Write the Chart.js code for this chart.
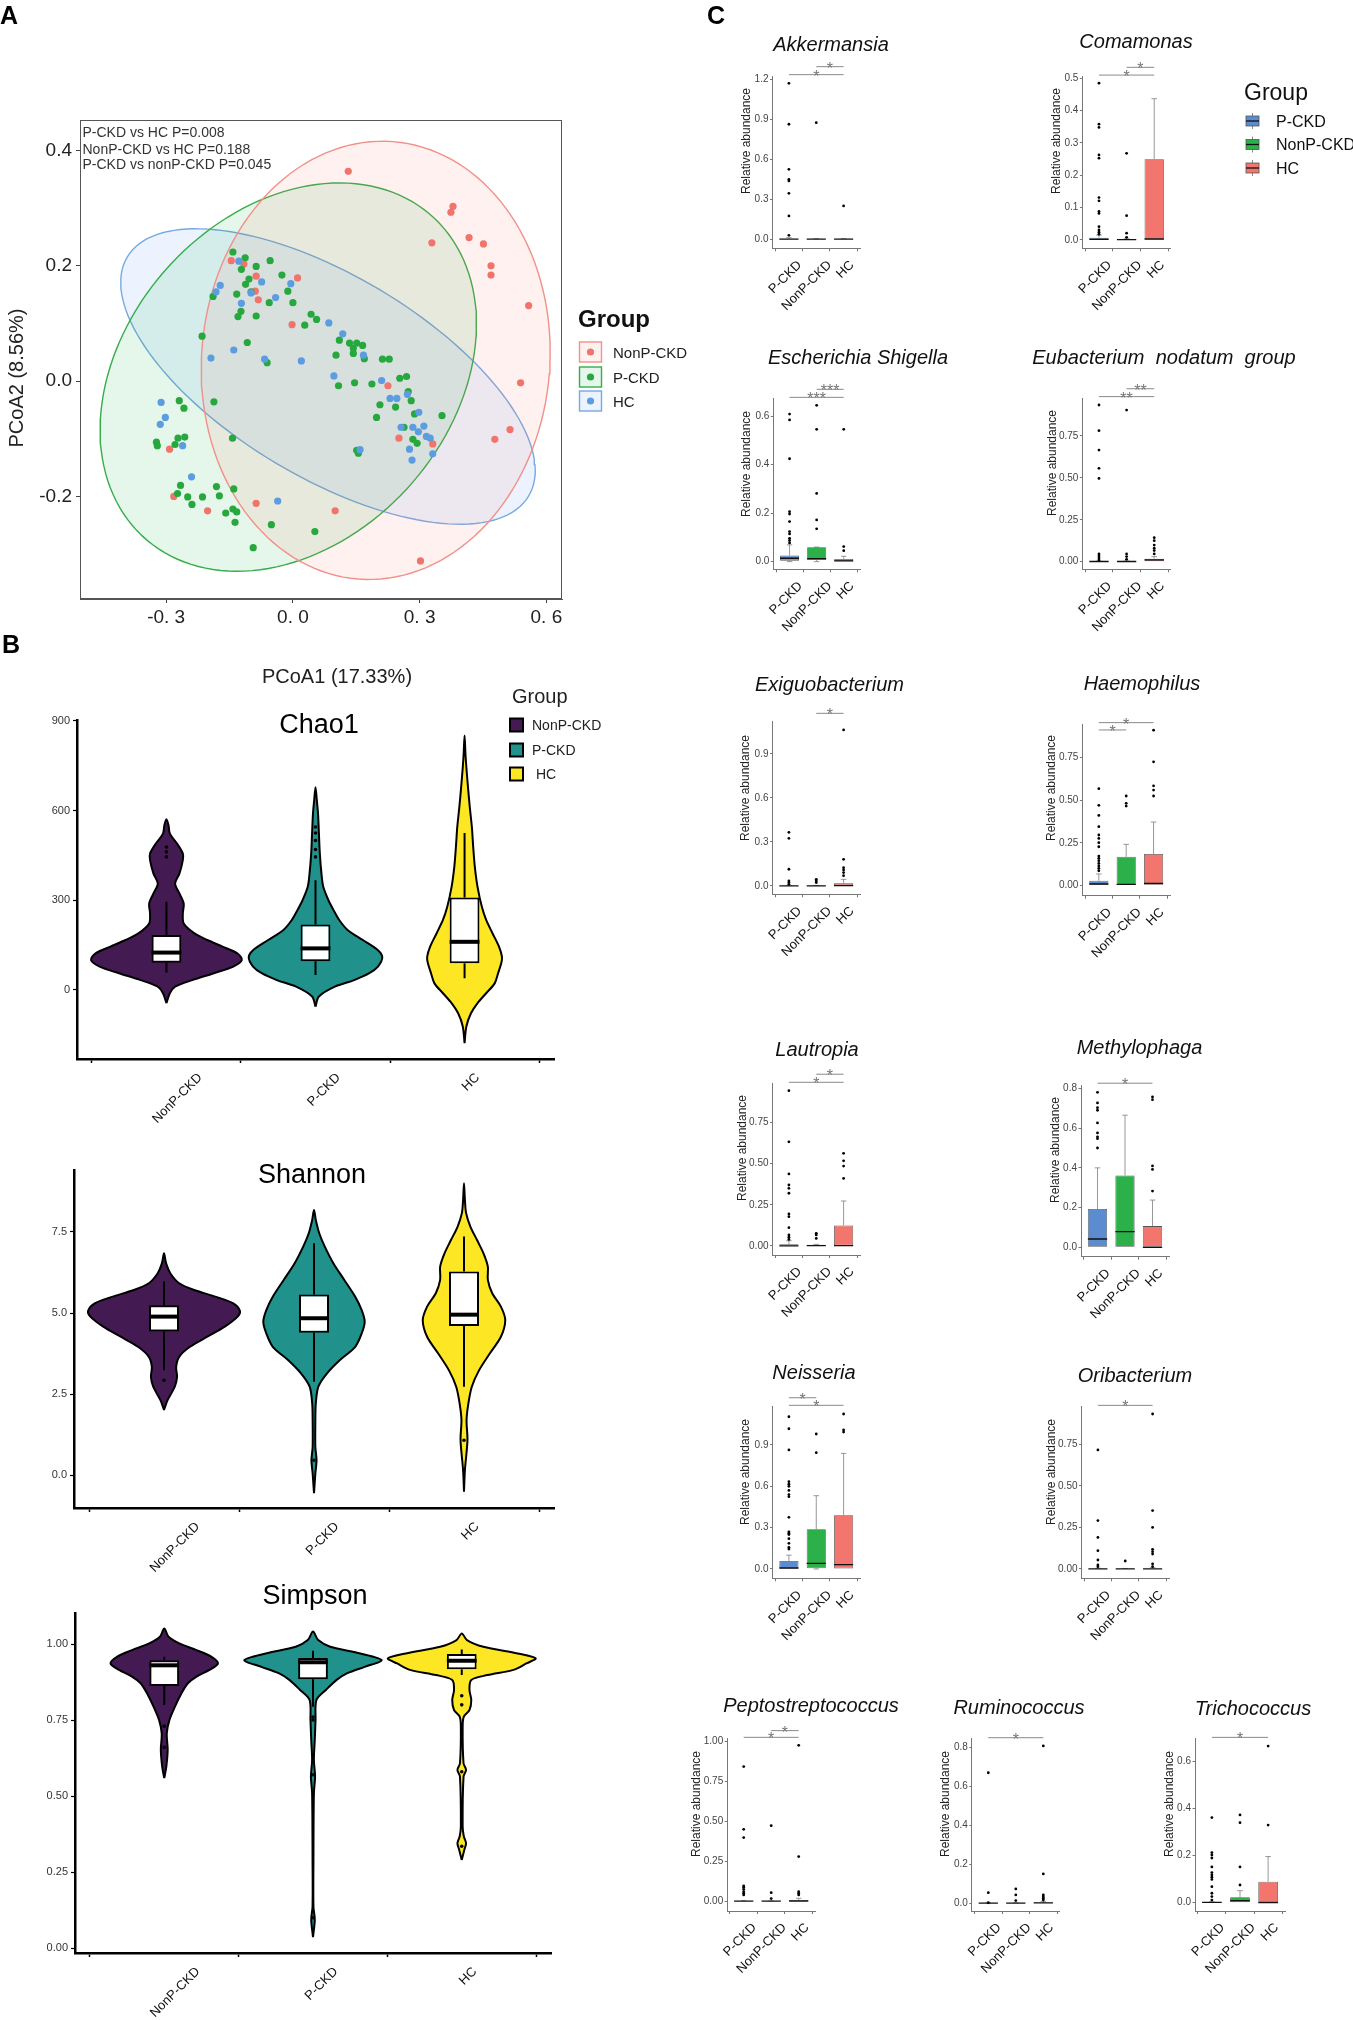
<!DOCTYPE html>
<html><head><meta charset="utf-8"><title>Figure</title>
<script src="https://cdn.jsdelivr.net/npm/chart.js@4.4.1/dist/chart.umd.min.js"></script>
<style>
html,body{margin:0;padding:0;background:#ffffff;}
body{position:relative;width:1353px;height:2020px;overflow:hidden;}
canvas{position:absolute;}
</style></head><body>
<script>
/* ================= DATA ================= */
// ---- Panel A : PCoA ----
const pcoaGroups = ['NonP-CKD','P-CKD','HC'];
const pcoaNonP = [[0.131,0.364],[0.379,0.303],[0.374,0.293],[0.329,0.240],[0.417,0.249],[0.451,0.238],[0.469,0.200],[0.469,0.184],[0.558,0.131],[0.539,-0.003],[0.514,-0.084],[0.478,-0.101],[0.302,-0.312],[0.100,-0.225],[-0.087,-0.212],[-0.202,-0.225],[-0.282,-0.200],[-0.292,-0.118],[0.251,-0.099],[0.331,-0.109],[0.225,-0.008],[-0.002,0.098],[0.011,0.179],[-0.087,0.182],[-0.082,0.141],[-0.089,0.156],[-0.146,0.209],[-0.116,0.203]];
const pcoaPCKD = [[-0.142,0.224],[-0.113,0.214],[-0.087,0.199],[-0.054,0.209],[-0.122,0.194],[-0.026,0.184],[-0.104,0.177],[-0.112,0.168],[-0.133,0.151],[-0.099,0.155],[-0.012,0.156],[-0.056,0.136],[0.000,0.136],[-0.189,0.147],[-0.123,0.121],[-0.130,0.112],[-0.087,0.113],[0.043,0.116],[0.056,0.107],[0.028,0.097],[-0.215,0.078],[-0.108,0.067],[0.110,0.071],[0.134,0.066],[0.151,0.066],[0.165,0.062],[0.143,0.057],[0.102,0.045],[0.169,0.039],[0.143,0.048],[0.212,0.038],[0.228,0.038],[-0.061,0.032],[0.253,0.005],[0.269,0.008],[0.108,-0.008],[0.146,-0.003],[0.187,-0.005],[0.273,-0.018],[0.206,-0.041],[0.243,-0.045],[0.280,-0.034],[0.198,-0.063],[0.263,-0.080],[0.353,-0.060],[0.288,-0.057],[0.284,-0.101],[0.294,-0.108],[-0.269,-0.034],[-0.258,-0.047],[-0.187,-0.036],[-0.143,-0.099],[-0.323,-0.106],[-0.321,-0.112],[-0.272,-0.099],[-0.256,-0.097],[-0.279,-0.110],[-0.266,-0.181],[-0.273,-0.195],[-0.249,-0.201],[-0.239,-0.214],[-0.214,-0.201],[-0.181,-0.183],[-0.174,-0.199],[-0.140,-0.187],[-0.159,-0.229],[-0.142,-0.222],[-0.133,-0.227],[-0.137,-0.245],[-0.051,-0.249],[-0.094,-0.289],[0.052,-0.261],[0.155,-0.125],[0.151,-0.120]];
const pcoaHC = [[-0.128,0.208],[-0.172,0.166],[-0.182,0.155],[-0.122,0.135],[-0.099,0.153],[-0.074,0.172],[-0.041,0.145],[-0.005,0.169],[0.085,0.101],[0.118,0.082],[0.167,0.045],[0.020,0.035],[-0.067,0.038],[-0.140,0.054],[-0.194,0.040],[0.097,0.009],[0.210,0.001],[0.230,-0.030],[0.246,-0.030],[0.271,-0.023],[0.298,-0.054],[0.310,-0.078],[0.284,-0.080],[0.256,-0.080],[0.297,-0.088],[0.316,-0.096],[0.325,-0.099],[0.331,-0.126],[0.276,-0.118],[0.282,-0.137],[0.159,-0.119],[-0.312,-0.037],[-0.302,-0.063],[-0.314,-0.075],[-0.261,-0.112],[-0.240,-0.166],[-0.036,-0.208]];
// ellipse: centre x, centre y, then the two conjugate semi-axis vectors (ax, ay), (bx, by)
const pcoaEllipses = [[0.196,0.036,0.413,0.010,0.005,0.380],[-0.011,0.007,0.443,0.057,0.047,0.332],[0.083,0.008,0.469,-0.214,0.144,0.141]];
const pcoaXTicks = [-0.3,0,0.3,0.6];
const pcoaYTicks = [-0.2,0,0.2,0.4];
const permanovaText = ['P-CKD vs HC P=0.008','NonP-CKD vs HC P=0.188','P-CKD vs nonP-CKD P=0.045'];

// ---- Panel B : alpha diversity violins (value, half-width in category units) ----
const alphaGroups = ['NonP-CKD','P-CKD','HC'];
const alphaMetrics = ['Chao1','Shannon','Simpson'];
const chaoViolin = [
 [[-44,0],[-11,0.023],[11,0.058],[33,0.173],[56,0.318],[78,0.448],[100,0.506],[122,0.477],[145,0.376],[167,0.275],[189,0.188],[222,0.116],[256,0.110],[289,0.116],[323,0.087],[356,0.058],[389,0.087],[434,0.110],[456,0.110],[489,0.072],[523,0.023],[551,0.014],[571,0]],
 [[-56,0],[-22,0.023],[11,0.130],[33,0.260],[56,0.361],[78,0.419],[109,0.448],[133,0.419],[167,0.318],[200,0.217],[234,0.159],[267,0.121],[300,0.087],[345,0.052],[389,0.040],[456,0.029],[523,0.023],[590,0.017],[634,0.009],[678,0]],
 [[-178,0],[-122,0.012],[-78,0.043],[-44,0.087],[-11,0.145],[22,0.202],[56,0.225],[89,0.246],[111,0.251],[145,0.231],[189,0.188],[234,0.145],[278,0.116],[345,0.087],[411,0.069],[478,0.058],[545,0.049],[612,0.035],[678,0.023],[745,0.012],[790,0.006],[851,0]]
];
const shannonViolin = [
 [[2.01,0],[2.31,0.023],[2.73,0.072],[3.03,0.087],[3.34,0.081],[3.65,0.101],[3.96,0.173],[4.27,0.289],[4.58,0.405],[4.89,0.491],[5.07,0.506],[5.30,0.462],[5.50,0.347],[5.71,0.202],[5.92,0.101],[6.22,0.043],[6.53,0.014],[6.84,0]],
 [[-0.55,0],[0.05,0.009],[0.46,0.017],[0.87,0.009],[1.70,0.009],[2.21,0.012],[2.73,0.029],[3.14,0.087],[3.55,0.173],[3.96,0.275],[4.37,0.318],[4.73,0.338],[5.09,0.318],[5.50,0.275],[6.02,0.202],[6.53,0.130],[7.05,0.072],[7.46,0.035],[7.87,0.012],[8.18,0]],
 [[-0.51,0],[0.15,0.006],[1.08,0.023],[1.70,0.017],[2.21,0.029],[2.73,0.052],[3.24,0.101],[3.76,0.173],[4.27,0.246],[4.78,0.275],[5.20,0.246],[5.61,0.188],[6.02,0.159],[6.43,0.159],[6.84,0.130],[7.25,0.087],[7.66,0.043],[8.08,0.014],[8.49,0.006],[9.0,0]]
];
const simpsonViolin = [
 [[0.559,0],[0.597,0.014],[0.652,0.023],[0.706,0.017],[0.750,0.035],[0.794,0.072],[0.838,0.116],[0.871,0.159],[0.893,0.217],[0.915,0.304],[0.936,0.361],[0.958,0.318],[0.980,0.217],[1.002,0.101],[1.024,0.029],[1.051,0]],
 [[0.036,0],[0.093,0.012],[0.137,0.003],[0.290,0.003],[0.509,0.006],[0.564,0.014],[0.619,0.006],[0.685,0.012],[0.750,0.017],[0.816,0.023],[0.849,0.087],[0.882,0.159],[0.904,0.231],[0.925,0.347],[0.947,0.462],[0.969,0.318],[0.991,0.116],[1.013,0.035],[1.041,0]],
 [[0.290,0],[0.323,0.017],[0.345,0.029],[0.367,0.014],[0.400,0.006],[0.564,0.012],[0.586,0.029],[0.608,0.012],[0.728,0.006],[0.761,0.014],[0.783,0.052],[0.816,0.064],[0.849,0.052],[0.882,0.064],[0.898,0.173],[0.915,0.347],[0.936,0.434],[0.953,0.497],[0.969,0.376],[0.991,0.145],[1.013,0.035],[1.035,0]]
];
// box stats: [lower whisker, q1, median, q3, upper whisker]
const chaoBox = [[58,91,125,184,295],[50,96,139,219,367],[39,89,161,309,525]];
const shannonBox = [[3.24,4.43,4.89,5.24,5.97],[2.88,4.39,4.84,5.57,7.15],[2.73,4.60,4.95,6.28,7.36]];
const simpsonBox = [[0.800,0.862,0.930,0.947,0.958],[0.794,0.884,0.940,0.954,0.978],[0.898,0.917,0.945,0.967,0.982]];
const chaoOut = [[445,462,478],[445,470,500,525,545],[]];
const shannonOut = [[2.93],[0.46],[1.08]];
const simpsonOut = [[0.73,0.66],[0.76,0.75,0.57,0.10],[0.83,0.80,0.58,0.335]];
const chaoTicks = [0,300,600,900];
const shannonTicks = [0,2.5,5,7.5];
const simpsonTicks = [0,0.25,0.5,0.75,1];

// ---- Panel C : genus relative abundance box plots ----
const genusGroups = ['P-CKD','NonP-CKD','HC'];
const genera = ['Akkermansia','Comamonas','Escherichia Shigella','Eubacterium  nodatum  group','Exiguobacterium','Haemophilus','Lautropia','Methylophaga','Neisseria','Oribacterium','Peptostreptococcus','Ruminococcus','Trichococcus'];
const genusYTicks = [[0,0.3,0.6,0.9,1.2],[0,0.1,0.2,0.3,0.4,0.5],[0,0.2,0.4,0.6],[0,0.25,0.5,0.75],[0,0.3,0.6,0.9],[0,0.25,0.5,0.75],[0,0.25,0.5,0.75],[0,0.2,0.4,0.6,0.8],[0,0.3,0.6,0.9],[0,0.25,0.5,0.75],[0,0.25,0.5,0.75,1],[0,0.2,0.4,0.6,0.8],[0,0.2,0.4,0.6]];
const genusTickDecimals = [1,1,1,2,1,2,2,1,1,2,2,1,1];
const genusYRange = [[-0.0675,1.225],[-0.0258,0.505],[-0.0316,0.673],[-0.0457,0.975],[-0.0568,1.12],[-0.0607,0.948],[-0.0546,0.987],[-0.047,0.817],[-0.0677,1.178],[-0.0561,0.976],[-0.0606,1.021],[-0.0394,0.848],[-0.0355,0.699]];
const genusBox = [
 [[0,0,0.002,0.006,0.012],[0,0,0.001,0.003,0.005],[0,0,0.001,0.003,0.005]],
 [[0,0,0.002,0.007,0.015],[0,0,0.001,0.002,0.004],[0,0,0.003,0.25,0.437]],
 [[0,0.004,0.014,0.025,0.069],[0,0.007,0.012,0.059,0.06],[0,0,0.003,0.011,0.022]],
 [[0,0,0.001,0.002,0.004],[0,0,0.001,0.002,0.004],[0,0,0.01,0.018,0.03]],
 [[0,0,0.001,0.002,0.004],[0,0,0.001,0.002,0.004],[0,0,0.002,0.018,0.045]],
 [[0,0,0.008,0.027,0.067],[0,0,0.006,0.168,0.241],[0,0,0.012,0.184,0.372]],
 [[0,0,0.001,0.01,0.032],[0,0,0.002,0.008,0.01],[0,0,0.002,0.125,0.273]],
 [[0,0,0.042,0.193,0.40],[0,0,0.079,0.362,0.665],[0,0,0.0,0.107,0.238]],
 [[0,0,0.007,0.058,0.10],[0,0.005,0.041,0.288,0.532],[0,0,0.031,0.39,0.839]],
 [[0,0,0.001,0.002,0.004],[0,0,0.001,0.002,0.003],[0,0,0.001,0.004,0.008]],
 [[0,0,0.001,0.002,0.004],[0,0,0.001,0.002,0.003],[0,0,0.002,0.008,0.019]],
 [[0,0,0.001,0.002,0.003],[0,0,0.001,0.002,0.003],[0,0,0.002,0.005,0.01]],
 [[0,0,0.001,0.002,0.004],[0,0,0.009,0.023,0.051],[0,0,0,0.089,0.196]]
];
const genusOut = [
 [[1.17,0.863,0.525,0.45,0.438,0.345,0.175,0.03],[0.875],[0.25]],
 [[0.485,0.358,0.348,0.263,0.253,0.131,0.121,0.088,0.082,0.041,0.031,0.024,0.018],[0.268,0.075,0.021,0.008],[]],
 [[0.608,0.584,0.424,0.206,0.196,0.165,0.124,0.114,0.096,0.087,0.077],[0.644,0.545,0.281,0.172,0.135],[0.545,0.062,0.045]],
 [[0.935,0.782,0.666,0.557,0.497,0.046,0.034,0.022,0.010],[0.905,0.046,0.030,0.014],[0.143,0.125,0.099,0.080,0.066,0.046]],
 [[0.366,0.325,0.114,0.034,0.023,0.011],[0.045,0.034,0.023],[1.064,0.182,0.125,0.109,0.091,0.07]],
 [[0.568,0.470,0.411,0.345,0.296,0.276,0.251,0.227,0.172,0.159,0.145,0.129,0.114,0.100,0.086],[0.525,0.482,0.466],[0.912,0.726,0.585,0.560,0.525]],
 [[0.942,0.632,0.437,0.37,0.35,0.32,0.194,0.178,0.111,0.067,0.053,0.04],[0.077,0.067,0.046],[0.562,0.517,0.485,0.41]],
 [[0.78,0.727,0.703,0.69,0.626,0.576,0.556,0.547,0.5],[],[0.757,0.743,0.41,0.392,0.283]],
 [[1.105,1.018,0.864,0.634,0.615,0.6,0.57,0.54,0.525,0.375,0.27,0.26,0.25,0.22,0.186,0.157,0.145],[0.98,0.844],[1.125,1.009,0.994]],
 [[0.716,0.291,0.19,0.11,0.054,0.024,0.014],[0.048],[0.932,0.351,0.25,0.118,0.104,0.09,0.03,0.014]],
 [[0.844,0.451,0.399,0.096,0.088,0.075,0.06,0.05,0.04],[0.474,0.054,0.017],[0.977,0.28,0.06,0.05,0.04]],
 [[0.671,0.055,0.003],[0.074,0.043,0.014],[0.809,0.151,0.043,0.034,0.026,0.017]],
 [[0.362,0.213,0.203,0.19,0.152,0.128,0.118,0.108,0.099,0.068,0.04,0.026,0.011],[0.373,0.34,0.152,0.075],[0.666,0.33]]
];
// significance bars: [from group, to group, height, label]
const genusSig = [
 [[1,3,1.235,'*'],[2,3,1.295,'*']],
 [[1,3,0.510,'*'],[2,3,0.534,'*']],
 [[1,3,0.677,'***'],[2,3,0.710,'***']],
 [[1,3,0.985,'**'],[2,3,1.032,'**']],
 [[2,3,1.177,'*']],
 [[1,3,0.956,'*'],[1,2,0.913,'*']],
 [[1,3,0.993,'*'],[2,3,1.042,'*']],
 [[1,3,0.826,'*']],
 [[1,3,1.188,'*'],[1,2,1.243,'*']],
 [[1,3,0.984,'*']],
 [[1,3,1.027,'*'],[2,3,1.069,'*']],
 [[1,3,0.851,'*']],
 [[1,3,0.703,'*']]
];

/* ================= LAYOUT / STYLE ================= */
const FONT = '"Liberation Sans", Arial, Helvetica, sans-serif';
Chart.defaults.font.family = FONT;
const colA = ['#F0746B','#27A83F','#5C9CE0'];
const colAline = ['#F29089','#36AD4A','#78A9E2'];
const colAfill = ['rgba(248,118,109,0.10)','rgba(0,170,50,0.10)','rgba(97,156,255,0.12)'];
const colB = ['#441A53','#21918C','#FDE725'];
const colC = ['#5B8CCF','#2CB04A','#F3766E'];

const layoutB = [
  {b:{l:0,t:680,w:620,h:460}, a:{l:77,t:720,r:554,b:1059}, yr:[-231,903], title:[319,733]},
  {b:{l:0,t:1140,w:620,h:450}, a:{l:74,t:1170,r:554,b:1508}, yr:[-1.01,9.41], title:[312,1183]},
  {b:{l:0,t:1575,w:620,h:445}, a:{l:75,t:1613,r:551,b:1953}, yr:[-0.016,1.102], title:[315,1604]}
];
const layoutC = [
 {a:[772.5,76,860,248.3], tt:[831,50.5], yt:[747,141]},
 {a:[1082.4,76.7,1170.8,248.3], tt:[1136,48], yt:[1057,141]},
 {a:[773.3,398.3,860,569.3], tt:[858,363.5], yt:[747,464]},
 {a:[1082.4,398.3,1170.8,569.3], tt:[1164,363.5], yt:[1053,463]},
 {a:[772.5,721.7,860,894.3], tt:[829.5,690.5], yt:[746,788]},
 {a:[1082.4,724,1170,895.7], tt:[1142,690], yt:[1051.5,788]},
 {a:[772.5,1083.3,860,1255], tt:[817,1055.5], yt:[743,1148]},
 {a:[1081,1085,1169,1256.7], tt:[1139.5,1054], yt:[1056,1150]},
 {a:[772.5,1406.7,860,1578.3], tt:[814,1379], yt:[746,1472]},
 {a:[1081.5,1406.7,1169,1578.3], tt:[1135,1382], yt:[1051.5,1472]},
 {a:[727.2,1738.3,815.2,1911], tt:[811,1712], yt:[697,1804]},
 {a:[971.8,1738.3,1059.8,1911], tt:[1019,1714], yt:[946,1804]},
 {a:[1195,1738.3,1285,1911], tt:[1253,1714.5], yt:[1170,1804]}
];

/* ================= HELPERS ================= */
function makeCanvas(b){
  const c=document.createElement('canvas');
  c.width=b.w; c.height=b.h;
  c.style.left=b.l+'px'; c.style.top=b.t+'px'; c.style.width=b.w+'px'; c.style.height=b.h+'px';
  document.body.appendChild(c); return c;
}
function makeChart(b, a, xr, yr, datasets, xopt, yopt, drawFn){
  const c = makeCanvas(b);
  return new Chart(c, {
    type:'scatter',
    data:{datasets},
    options:{
      responsive:false, maintainAspectRatio:false, animation:false, events:[],
      layout:{padding:{left:0, top:a.t-b.t, right:(b.l+b.w)-a.r, bottom:0}},
      plugins:{legend:{display:false}, tooltip:{enabled:false}, title:{display:false}},
      scales:{
        x:Object.assign({type:'linear', min:xr[0], max:xr[1], offset:false, afterFit:s=>{s.height=(b.t+b.h)-a.b;}}, xopt),
        y:Object.assign({type:'linear', min:yr[0], max:yr[1], afterFit:s=>{s.width=a.l-b.l;}}, yopt)
      }
    },
    plugins:[{id:'deco', afterDraw(ch){ const ctx=ch.ctx; ctx.save(); ctx.translate(-b.l,-b.t); drawFn(ch, ctx, b); ctx.restore(); }}]
  });
}
function fixedTicks(arr){ return s=>{ s.ticks = arr.map(v=>({value:v})); }; }
function T(ctx, s, x, y, font, color, align, base, rot){
  ctx.save(); ctx.font=font; ctx.fillStyle=color; ctx.textAlign=align||'left'; ctx.textBaseline=base||'alphabetic';
  ctx.translate(x,y); if(rot) ctx.rotate(rot); ctx.fillText(s,0,0); ctx.restore();
}
function catLabels(ch, ctx, b, labels, font, fs, dy, off, k){
  ctx.save(); ctx.font=font; ctx.fillStyle='#111'; ctx.textAlign='center'; ctx.textBaseline='middle';
  const bottom = ch.chartArea.bottom + b.t;
  labels.forEach((lab,i)=>{
    const tx = ch.scales.x.getPixelForValue(i+1) + b.l;
    const L = ctx.measureText(lab).width, W=(L+fs*0.8)*Math.SQRT1_2;
    const cx = tx + off + k*W, cy = bottom + dy + W/2;
    ctx.save(); ctx.translate(cx,cy); ctx.rotate(-Math.PI/4); ctx.fillText(lab,0,0); ctx.restore();
  });
  ctx.restore();
}
function seg(x1,y1,x2,y2,color,w,order,noclip){
  const d={data:[{x:x1,y:y1},{x:x2,y:y2}], showLine:true, borderColor:color, backgroundColor:color, borderWidth:w, pointRadius:0, pointHoverRadius:0, order:order};
  if(noclip) d.clip=false;
  return d;
}
function ellipsePts(p){
  const [cx,cy,ax,ay,bx,by]=p, pts=[];
  for(let i=0;i<=144;i++){ const t=i/144*2*Math.PI; pts.push({x:cx+ax*Math.cos(t)+bx*Math.sin(t), y:cy+ay*Math.cos(t)+by*Math.sin(t)}); }
  return pts;
}
function violinPts(center, prof){
  const right = prof.map(([v,w])=>({x:center+w, y:v}));
  const left = prof.slice().reverse().map(([v,w])=>({x:center-w, y:v}));
  return right.concat(left.slice(1));
}

/* ================= PANEL A ================= */
(function(){
  const b={l:0,t:0,w:705,h:700}, a={l:80,t:120,r:562,b:599};
  const ds=[];
  pcoaEllipses.forEach((p,i)=>ds.push({data:ellipsePts(p), showLine:true, indexAxis:'y', fill:'shape',
     backgroundColor:colAfill[i], borderColor:colAline[i], borderWidth:1.4, pointRadius:0, pointHoverRadius:0, order:10+i}));
  [pcoaNonP,pcoaPCKD,pcoaHC].forEach((arr,i)=>ds.push({data:arr.map(([x,y])=>({x,y})), pointRadius:3.6, pointHoverRadius:3.6,
     backgroundColor:colA[i], borderColor:colA[i], borderWidth:0, order:5-i}));
  makeChart(b,a,[-0.504,0.637],[-0.378,0.453],ds,
    {afterBuildTicks:fixedTicks(pcoaXTicks), ticks:{font:{size:19}, color:'#222', padding:3, maxRotation:0, autoSkip:false, callback:v=>v.toFixed(1).replace('.', '. ')},
     grid:{drawOnChartArea:false, tickLength:4, tickColor:'#444', color:'#444'}, border:{color:'#555', width:1}},
    {afterBuildTicks:fixedTicks(pcoaYTicks), ticks:{font:{size:19}, color:'#222', padding:4, autoSkip:false, callback:v=>v.toFixed(1)},
     grid:{drawOnChartArea:false, tickLength:4, tickColor:'#444', color:'#444'}, border:{color:'#555', width:1}},
    (ch,ctx,b)=>{
      const ca=ch.chartArea;
      ctx.strokeStyle='#555'; ctx.lineWidth=1;
      ctx.strokeRect(ca.left+b.l+0.5, ca.top+b.t+0.5, ca.right-ca.left-1, ca.bottom-ca.top-1);
      T(ctx,'A',0,24,'bold 25px '+FONT,'#000');
      T(ctx,'B',2,653,'bold 25px '+FONT,'#000');
      permanovaText.forEach((s,i)=>T(ctx,s,82.5,[137,154,169][i],'14px '+FONT,'#333'));
      T(ctx,'PCoA2 (8.56%)',17,378,'20px '+FONT,'#222','center','middle',-Math.PI/2);
      T(ctx,'PCoA1 (17.33%)',337,677,'20px '+FONT,'#222','center','middle');
      T(ctx,'Group',578,327,'bold 24px '+FONT,'#111');
      [352,377,401].forEach((yc,i)=>{
        ctx.fillStyle=colAfill[i]; ctx.fillRect(579,yc-10,22,20);
        ctx.strokeStyle=colAline[i]; ctx.lineWidth=1.4; ctx.strokeRect(579.5,yc-10,22,20);
        ctx.fillStyle=colA[i]; ctx.beginPath(); ctx.arc(590.5,yc,3.6,0,2*Math.PI); ctx.fill();
        T(ctx,pcoaGroups[i],613,yc+6,'15px '+FONT,'#222');
      });
    });
})();

/* ================= PANEL B ================= */
[[chaoViolin,chaoBox,chaoOut,chaoTicks,0],[shannonViolin,shannonBox,shannonOut,shannonTicks,1],[simpsonViolin,simpsonBox,simpsonOut,simpsonTicks,2]].forEach(([vio,box,out,ticks,m])=>{
  const L=layoutB[m];
  const ds=[];
  vio.forEach((p,i)=>ds.push({data:violinPts(i+1,p), showLine:true, indexAxis:'y', fill:'shape', tension:0.3,
     backgroundColor:colB[i], borderColor:'#000', borderWidth:2, borderJoinStyle:'round', pointRadius:0, pointHoverRadius:0, order:30}));
  box.forEach((s,i)=>{ ds.push(seg(i+1,s[0],i+1,s[1],'#000',2,20)); ds.push(seg(i+1,s[3],i+1,s[4],'#000',2,20)); });
  ds.push({type:'bar', data:box.map((s,i)=>({x:i+1,y:[s[1],s[3]]})), backgroundColor:'#fff', borderColor:'#000', borderWidth:2,
     borderSkipped:false, barPercentage:0.2, categoryPercentage:1, order:15});
  box.forEach((s,i)=>ds.push(seg(i+1-0.1,s[2],i+1+0.1,s[2],'#000',4,10)));
  out.forEach((o,i)=>ds.push({data:o.map(v=>({x:i+1,y:v})), pointRadius:1.8, pointHoverRadius:1.8, backgroundColor:'#000', borderColor:'#000', borderWidth:0, order:5}));
  const dec = m===0?0:(m===1?1:2);
  makeChart(L.b,L.a,[0.4,3.6],L.yr,ds,
    {afterBuildTicks:fixedTicks([1,2,3]), ticks:{display:false}, grid:{drawOnChartArea:false, tickLength:4, tickColor:'#000', tickWidth:1.5, color:'#000'}, border:{color:'#000', width:2.5}},
    {afterBuildTicks:fixedTicks(ticks), ticks:{font:{size:11}, color:'#333', padding:3, autoSkip:false, callback:v=>v.toFixed(dec)},
     grid:{drawOnChartArea:false, tickLength:4, tickColor:'#000', tickWidth:1.2, color:'#000'}, border:{color:'#000', width:2.5}},
    (ch,ctx,b)=>{
      T(ctx,alphaMetrics[m],L.title[0],L.title[1],'27px '+FONT,'#000','center');
      catLabels(ch,ctx,b,alphaGroups,'13px '+FONT,13,13,3.5,0.14);
      if(m===0){
        T(ctx,'Group',512,703,'20px '+FONT,'#222');
        [725,750,774].forEach((yc,i)=>{
          ctx.fillStyle=colB[i]; ctx.fillRect(510,yc-6.5,13,13);
          ctx.strokeStyle='#000'; ctx.lineWidth=2; ctx.strokeRect(510,yc-6.5,13,13);
          T(ctx,i===2?' HC':alphaGroups[i],532,yc+5,'14px '+FONT,'#222');
        });
      }
    });
});

/* ================= PANEL C ================= */
genera.forEach((g,gi)=>{
  const Lc=layoutC[gi];
  const a={l:Lc.a[0],t:Lc.a[1],r:Lc.a[2],b:Lc.a[3]};
  let bl=Math.min(Lc.yt[0]-12, Lc.tt[0]-135), br=Math.max(a.r+45, Lc.tt[0]+135), bt=Lc.tt[1]-24, bb=a.b+80;
  if(gi===0){ bl=700; bt=0; }
  if(gi===1){ br=1353; bt=20; }
  const b={l:Math.round(bl), t:Math.round(bt), w:Math.round(br-bl), h:Math.round(bb-bt)};
  const stats=genusBox[gi], outs=genusOut[gi];
  const ds=[];
  stats.forEach((s,i)=>{
    const c=i+1;
    if(s[4]>s[3]){ ds.push(seg(c,s[3],c,s[4],'#8c8c8c',0.9,30)); ds.push(seg(c-0.1,s[4],c+0.1,s[4],'#8c8c8c',0.9,30)); }
    if(s[1]>s[0]){ ds.push(seg(c,s[0],c,s[1],'#8c8c8c',0.9,30)); ds.push(seg(c-0.1,s[0],c+0.1,s[0],'#8c8c8c',0.9,30)); }
  });
  ds.push({type:'bar', data:stats.map((s,i)=>({x:i+1,y:[s[1],s[3]]})), backgroundColor:colC, borderColor:'#555', borderWidth:0.8,
     borderSkipped:false, barPercentage:0.7, categoryPercentage:1, order:20});
  stats.forEach((s,i)=>ds.push(seg(i+1-0.35,s[2],i+1+0.35,s[2],'#111',1.3,10)));
  outs.forEach((o,i)=>ds.push({data:o.map(v=>({x:i+1,y:v})), pointRadius:1.4, pointHoverRadius:1.4, backgroundColor:'#000', borderColor:'#000', borderWidth:0, order:5}));
  genusSig[gi].forEach(sg=>ds.push(seg(sg[0],sg[2],sg[1],sg[2],'#8a8a8a',1,4,true)));
  const dec=genusTickDecimals[gi];
  makeChart(b,a,[0.4,3.6],genusYRange[gi],ds,
    {afterBuildTicks:fixedTicks([1,2,3]), ticks:{display:false}, grid:{drawOnChartArea:false, tickLength:3, tickColor:'#777', color:'#777'}, border:{color:'#777', width:1}},
    {afterBuildTicks:fixedTicks(genusYTicks[gi]), ticks:{font:{size:10}, color:'#444', padding:1.5, autoSkip:false, callback:v=>v.toFixed(dec)},
     grid:{drawOnChartArea:false, tickLength:2.5, tickColor:'#777', color:'#777'}, border:{color:'#777', width:1}},
    (ch,ctx,b)=>{
      T(ctx,g,Lc.tt[0],Lc.tt[1],'italic 20px '+FONT,'#111','center');
      T(ctx,'Relative abundance',Lc.yt[0],Lc.yt[1],'12px '+FONT,'#222','center','middle',-Math.PI/2);
      catLabels(ch,ctx,b,genusGroups,'13px '+FONT,13,11,9,-0.35);
      genusSig[gi].forEach(sg=>{
        const x=ch.scales.x.getPixelForValue((sg[0]+sg[1])/2)+b.l, y=ch.scales.y.getPixelForValue(sg[2])+b.t;
        T(ctx,sg[3],x,y+7,'16px '+FONT,'#777','center');
      });
      if(gi===0) T(ctx,'C',707,23.5,'bold 25px '+FONT,'#000');
      if(gi===1){
        T(ctx,'Group',1244,100,'23px '+FONT,'#111');
        [121,144.5,168].forEach((yc,i)=>{
          ctx.strokeStyle='#8c8c8c'; ctx.lineWidth=1; ctx.beginPath(); ctx.moveTo(1252.5,yc-8); ctx.lineTo(1252.5,yc+8); ctx.stroke();
          ctx.fillStyle=colC[i]; ctx.fillRect(1246,yc-5,13,10);
          ctx.strokeStyle='#555'; ctx.lineWidth=0.8; ctx.strokeRect(1246,yc-5,13,10);
          ctx.strokeStyle='#111'; ctx.lineWidth=1.3; ctx.beginPath(); ctx.moveTo(1246,yc); ctx.lineTo(1259,yc); ctx.stroke();
          T(ctx,genusGroups[i],1276,yc+5.7,'16px '+FONT,'#111');
        });
      }
    });
});
</script>
</body></html>
